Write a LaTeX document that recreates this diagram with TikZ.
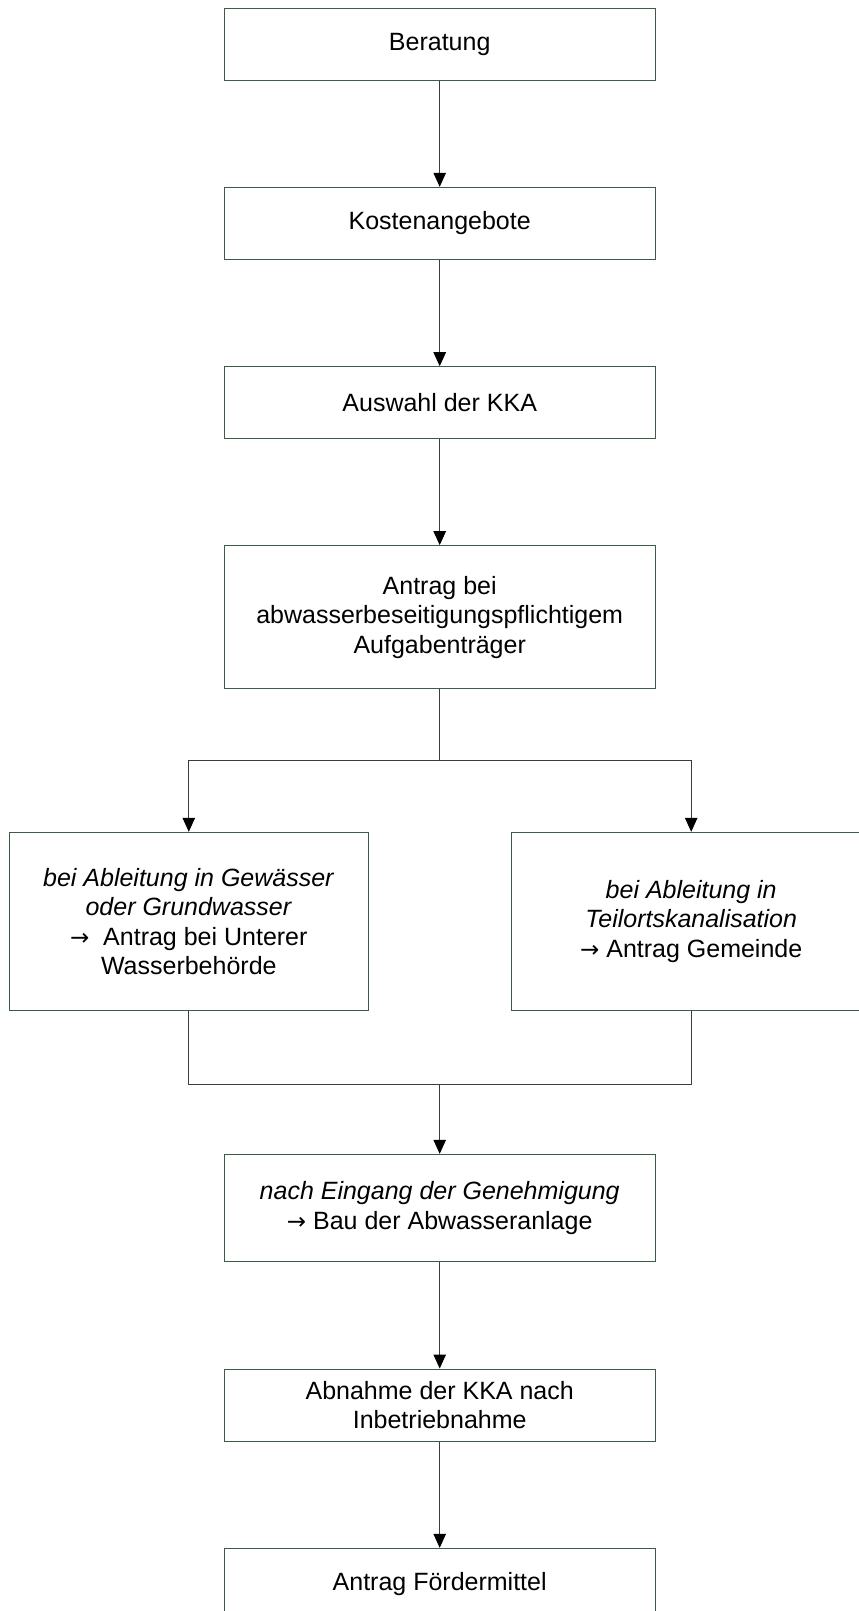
\documentclass[tikz,border=0pt]{standalone}
\usepackage{fontspec}
\setmainfont{Liberation Sans}
\newfontfamily\arrfont{DejaVu Sans}
\usetikzlibrary{arrows.meta}
\definecolor{boxline}{RGB}{60,92,70}
\definecolor{conline}{RGB}{60,60,60}
\newcommand{\ra}{{\arrfont\fontsize{23}{29.5}\selectfont →}}
\begin{document}
\begin{tikzpicture}[x=1pt,y=-1pt,
  box/.style={draw=boxline,line width=1pt,rectangle,inner sep=0pt,align=center,
    font=\fontsize{25}{29.5}\selectfont,text=black},
  midbox/.style={box,minimum width=430.7pt},
  sidebox/.style={box,minimum width=359pt,minimum height=178.4pt},
  con/.style={draw=conline,line width=1pt},
  arr/.style={con,-{Triangle[length=14pt,width=12.5pt,color=black]}}
]
\useasboundingbox (0,0) rectangle (859,1611);
\clip (0,0) rectangle (859,1611);

\node[midbox,minimum height=71pt] (ber) at (439.7,44.5) {Beratung};
\node[midbox,minimum height=72pt] (kos) at (439.7,223.3) {Kostenangebote};
\node[midbox,minimum height=71.6pt] (aus) at (439.7,402.5) {Auswahl der KKA};
\node[midbox,minimum height=143.3pt] (ant) at (439.7,617.3) {Antrag bei\\abwasserbeseitigungspflichtigem\\Aufgabenträger};
\node[sidebox] (lft) at (188.8,921.5) {\textit{bei Ableitung in Gewässer}\\\textit{oder Grundwasser}\\\ra\ \ Antrag bei Unterer\\Wasserbehörde};
\node[sidebox] (rgt) at (691.2,921.5) {\textit{bei Ableitung in}\\\textit{Teilortskanalisation}\\\ra\ Antrag Gemeinde};
\node[midbox,minimum height=107.4pt] (bau) at (439.7,1208) {\textit{nach Eingang der Genehmigung}\\\ra\ Bau der Abwasseranlage};
\node[midbox,minimum height=72pt] (abn) at (439.7,1405) {Abnahme der KKA nach\\Inbetriebnahme};
\node[midbox,minimum height=71pt] (foe) at (439.7,1583.8) {Antrag Fördermittel};

\coordinate (sp) at (439.7,760.7);
\coordinate (mg) at (439.7,1084.3);

\draw[arr] (ber.south) -- (kos.north);
\draw[arr] (kos.south) -- (aus.north);
\draw[arr] (aus.south) -- (ant.north);
\draw[con] (ant.south) -- (sp);
\draw[arr] (sp) -| (lft.north);
\draw[arr] (sp) -| (rgt.north);
\draw[con] (lft.south) |- (mg);
\draw[con] (rgt.south) |- (mg);
\draw[arr] (mg) -- (bau.north);
\draw[arr] (bau.south) -- (abn.north);
\draw[arr] (abn.south) -- (foe.north);
\end{tikzpicture}
\end{document}
